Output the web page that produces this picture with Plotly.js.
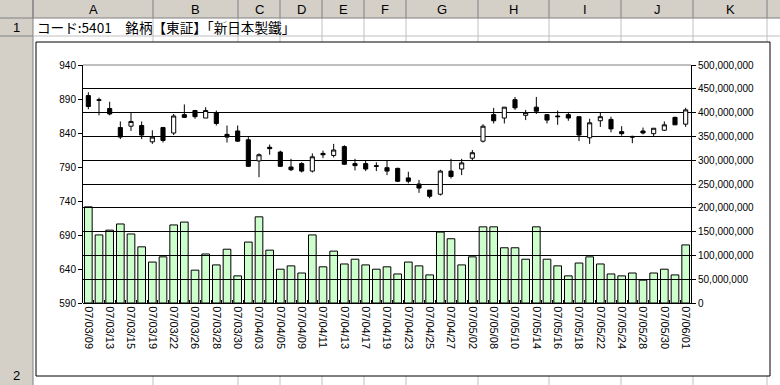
<!DOCTYPE html>
<html><head><meta charset="utf-8">
<script src="https://cdn.plot.ly/plotly-3.0.1.min.js"></script>
<style>html,body{margin:0;padding:0;background:#fff;overflow:hidden}#chart{width:780px;height:385px}</style>
</head><body><div id="chart"></div>
<script>
// ---------- data ----------
const dates = ['07/03/09','07/03/12','07/03/13','07/03/14','07/03/15','07/03/16','07/03/19','07/03/20','07/03/22','07/03/23',
 '07/03/26','07/03/27','07/03/28','07/03/29','07/03/30','07/04/02','07/04/03','07/04/04','07/04/05','07/04/06',
 '07/04/09','07/04/10','07/04/11','07/04/12','07/04/13','07/04/16','07/04/17','07/04/18','07/04/19','07/04/20',
 '07/04/23','07/04/24','07/04/25','07/04/26','07/04/27','07/05/01','07/05/02','07/05/07','07/05/08','07/05/09',
 '07/05/10','07/05/11','07/05/14','07/05/15','07/05/16','07/05/17','07/05/18','07/05/21','07/05/22','07/05/23',
 '07/05/24','07/05/25','07/05/28','07/05/29','07/05/30','07/05/31','07/06/01'];
const openPrice  = [895,889,876,848,850,851,827,848,840,867, 873,862,870,838,843,830,799,819,812,790, 795,784,810,807,820,795,795,792,789,788,
                    774,765,756,750,784,787,803,828,867,862, 889,866,878,867,865,867,864,833,858,860, 842,835,843,839,844,863,853];
const highPrice  = [900,892,886,857,870,857,844,849,868,882, 874,878,873,851,851,834,810,823,814,802, 797,810,814,824,822,802,800,797,799,789,
                    783,771,756,786,802,802,815,853,877,878, 893,874,893,867,873,871,864,861,870,864, 850,836,848,847,857,864,877];
const lowPrice   = [875,866,866,831,843,831,824,826,837,862, 861,862,851,826,827,790,775,808,790,784, 782,782,803,804,793,785,784,784,778,768,
                    766,752,744,748,773,778,800,826,854,854, 874,859,868,854,852,858,828,824,849,841, 836,825,838,834,843,852,849];
const closePrice = [879,888,868,834,857,837,834,829,865,863, 864,873,854,834,828,791,808,817,791,786, 784,805,808,815,794,792,787,791,784,769,
                    769,759,747,784,776,796,811,850,858,878, 877,870,872,859,864,862,837,855,864,846, 839,834,840,847,852,852,874];
const volume = [202,143,153,166,145,118,86,97,164,170, 69,103,80,113,57,128,181,111,71,78, 63,143,76,109,82,92,80,71,76,61,
                86,78,59,149,135,80,97,160,160,116, 116,92,160,92,78,57,84,97,82,61, 57,63,48,63,71,59,122].map(v => v * 1e6);
const priceTicks = [590,640,690,740,790,840,890,940];
const volumeTicks = [0,50e6,100e6,150e6,200e6,250e6,300e6,350e6,400e6,450e6,500e6];
const columnLetters = ['A','B','C','D','E','F','G','H','I','J','K'];
const rowNumbers = ['1','2'];
const cellText = 'コード:5401　銘柄【東証】「新日本製鐵」';

// ---------- layout geometry (pixels) ----------
const W = 780, H = 385;
const PX = x => x / W, PY = y => 1 - y / H;
const colEdges = [33,153,238,280,322,364,406,478,549,621,693,767];
const headerBottom = 18, row1Bottom = 36, rowHeadRight = 33;
const chartBox = {x0:36, y0:42, x1:770, y1:376};
const plotBox = {x0:83, y0:65, x1:691, y1:303};
const headerFill = '#d4d0c8', cellLine = '#c0c0c0';
const tickFont = {family:'Liberation Sans, Arial, sans-serif', size:10, color:'#000'};

const shapes = [];
shapes.push({type:'rect', xref:'paper', yref:'paper', x0:0, x1:1, y0:PY(headerBottom), y1:1, fillcolor:headerFill, line:{width:0}, layer:'below'});
shapes.push({type:'rect', xref:'paper', yref:'paper', x0:0, x1:PX(rowHeadRight), y0:0, y1:1, fillcolor:headerFill, line:{width:0}, layer:'below'});
colEdges.forEach(x => {
  shapes.push({type:'line', xref:'paper', yref:'paper', x0:PX(x), x1:PX(x), y0:PY(headerBottom), y1:1, line:{color:'#808080', width:1}, layer:'below'});
  if (x > rowHeadRight) shapes.push({type:'line', xref:'paper', yref:'paper', x0:PX(x), x1:PX(x), y0:0, y1:PY(headerBottom), line:{color:cellLine, width:1}, layer:'below'});
});
shapes.push({type:'line', xref:'paper', yref:'paper', x0:0, x1:1, y0:PY(headerBottom), y1:PY(headerBottom), line:{color:'#808080', width:1}, layer:'below'});
shapes.push({type:'line', xref:'paper', yref:'paper', x0:PX(rowHeadRight), x1:PX(rowHeadRight), y0:0, y1:1, line:{color:'#808080', width:1}, layer:'below'});
shapes.push({type:'line', xref:'paper', yref:'paper', x0:0, x1:PX(rowHeadRight), y0:PY(row1Bottom), y1:PY(row1Bottom), line:{color:'#808080', width:1}, layer:'below'});
shapes.push({type:'line', xref:'paper', yref:'paper', x0:PX(rowHeadRight), x1:1, y0:PY(row1Bottom), y1:PY(row1Bottom), line:{color:cellLine, width:1}, layer:'below'});
shapes.push({type:'rect', xref:'paper', yref:'paper', x0:PX(chartBox.x0), x1:PX(chartBox.x1), y0:PY(chartBox.y1), y1:PY(chartBox.y0), fillcolor:'#fff', line:{color:'#000', width:1}, layer:'below'});
shapes.push({type:'line', xref:'paper', yref:'paper', x0:PX(plotBox.x0), x1:PX(plotBox.x1), y0:PY(plotBox.y0), y1:PY(plotBox.y0), line:{color:'#808080', width:1}, layer:'above'});

const annotations = [];
const hdrFont = {family:'Liberation Sans, Arial, sans-serif', size:13, color:'#000'};
columnLetters.forEach((c, i) => annotations.push({xref:'paper', yref:'paper', x:PX((colEdges[i]+colEdges[i+1])/2), y:PY(9), text:c, showarrow:false, xanchor:'center', yanchor:'middle', font:hdrFont}));
annotations.push({xref:'paper', yref:'paper', x:PX(16), y:PY(27), text:rowNumbers[0], showarrow:false, xanchor:'center', yanchor:'middle', font:hdrFont});
annotations.push({xref:'paper', yref:'paper', x:PX(16), y:PY(375), text:rowNumbers[1], showarrow:false, xanchor:'center', yanchor:'middle', font:hdrFont});
annotations.push({xref:'paper', yref:'paper', x:PX(35), y:PY(27), text:cellText, showarrow:false, xanchor:'left', yanchor:'middle', font:{family:'Noto Sans CJK JP, sans-serif', size:13.6, color:'#000'}});

const xDomain = [PX(plotBox.x0), PX(plotBox.x1)];
const yDomain = [PY(plotBox.y1), PY(plotBox.y0)];

const traces = [
  {type:'bar', x:dates, y:volume, xaxis:'x', yaxis:'y', marker:{color:'#ccffcc', line:{color:'#000', width:1}}, hoverinfo:'skip'},
  // carrier for the volume-scale gridlines drawn above the bars and below the candles
  {type:'scatter', mode:'lines', x:[], y:[], xaxis:'x2', yaxis:'y3', hoverinfo:'skip'},
  {type:'candlestick', x:dates, open:openPrice, high:highPrice, low:lowPrice, close:closePrice, xaxis:'x2', yaxis:'y2',
   increasing:{fillcolor:'#ffffff', line:{color:'#000', width:1}},
   decreasing:{fillcolor:'#000000', line:{color:'#000', width:1}}, whiskerwidth:0, hoverinfo:'skip'}
];

const layout = {
  width:W, height:H, margin:{l:0, r:0, t:0, b:0}, autosize:false,
  paper_bgcolor:'#ffffff', plot_bgcolor:'rgba(0,0,0,0)', showlegend:false,
  bargap:0.28, boxgap:0.45,
  xaxis:{domain:xDomain, anchor:'y', type:'category', range:[-0.5, dates.length-0.5], tickmode:'array', tickvals:dates,
         ticktext:dates.map((d,i) => i % 2 === 0 ? d : ''), tickson:'boundaries', ticks:'inside', ticklen:3, tickcolor:'#000',
         tickangle:90, tickfont:{family:'Liberation Sans, Arial, sans-serif', size:11, color:'#000'},
         showline:true, linecolor:'#000', linewidth:1, showgrid:false, zeroline:false, fixedrange:true, rangeslider:{visible:false}},
  xaxis2:{domain:xDomain, anchor:'y2', type:'category', range:[-0.5, dates.length-0.5], visible:false, showgrid:false, fixedrange:true, rangeslider:{visible:false}},
  yaxis:{domain:yDomain, anchor:'x', side:'right', range:[0, 500e6], tickmode:'array', tickvals:volumeTicks, tickformat:',d',
         ticks:'outside', ticklen:4, tickcolor:'#000', tickfont:tickFont, showline:true, linecolor:'#000', linewidth:1,
         showgrid:false, zeroline:false, fixedrange:true},
  yaxis2:{domain:yDomain, anchor:'x2', side:'left', range:[590, 940], tickmode:'array', tickvals:priceTicks,
         ticks:'outside', ticklen:4, tickcolor:'#000', tickfont:tickFont, showline:true, linecolor:'#000', linewidth:1,
         showgrid:false, zeroline:false, fixedrange:true},
  yaxis3:{overlaying:'y2', anchor:'x2', side:'right', range:[0, 500e6], tickmode:'array', tickvals:volumeTicks,
         showgrid:true, gridcolor:'#000', gridwidth:1, showticklabels:false, ticks:'', showline:false, zeroline:false, fixedrange:true},
  shapes:shapes, annotations:annotations
};

Plotly.newPlot('chart', traces, layout, {displayModeBar:false, staticPlot:true});
</script></body></html>
